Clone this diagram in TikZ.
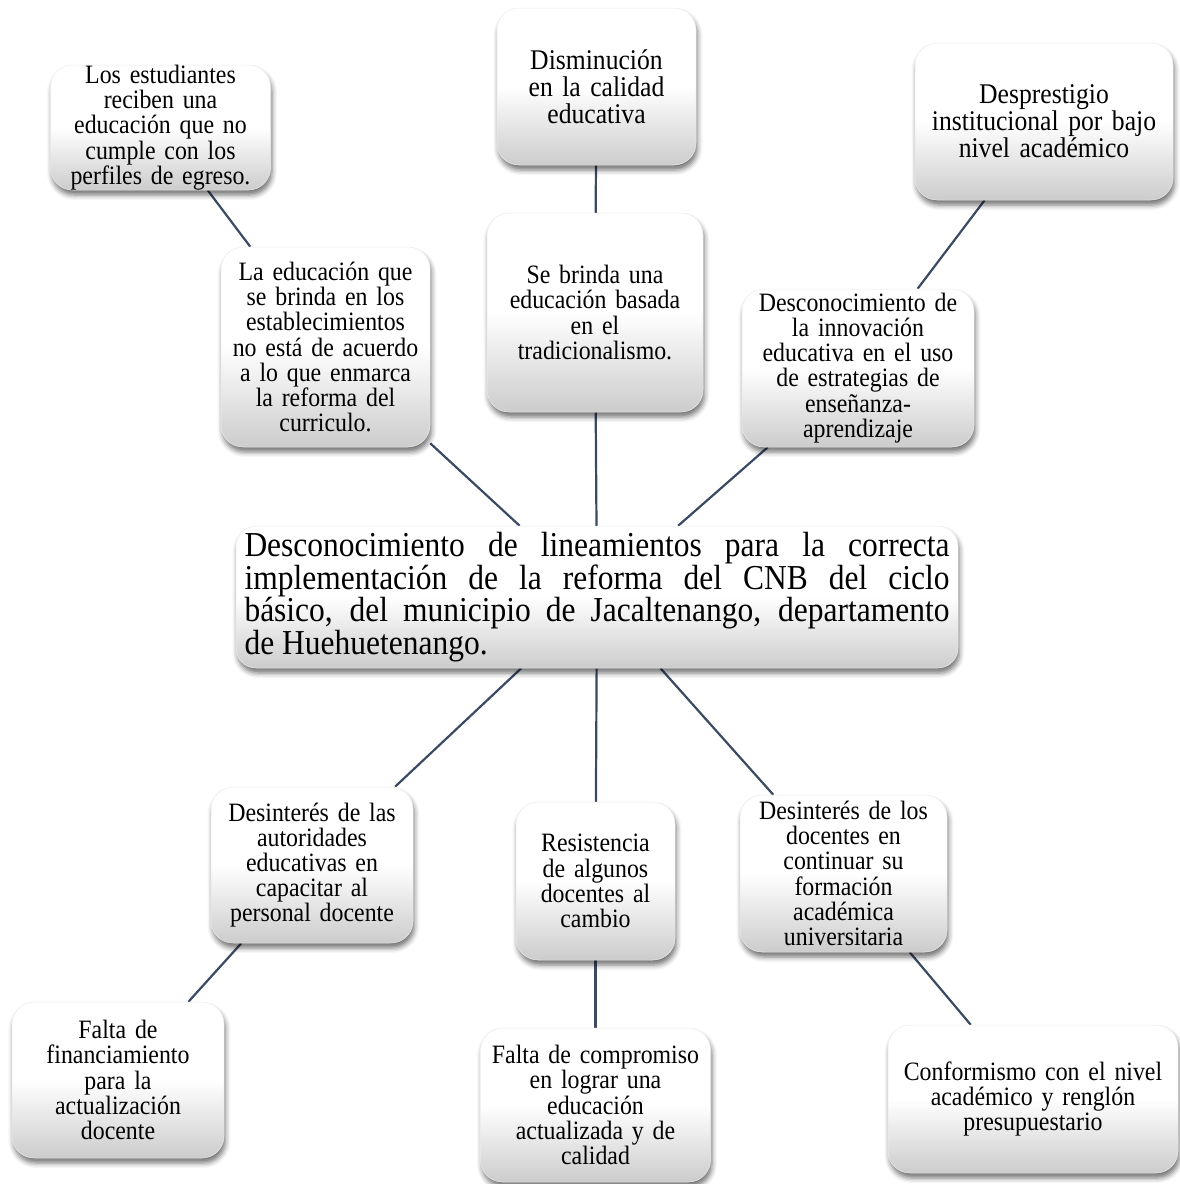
\documentclass[tikz,border=0pt]{standalone}
\usepackage{fontspec}
\setmainfont{Liberation Serif}
\newfontfamily\tallfont[FakeStretch=0.9]{Liberation Serif}
\usetikzlibrary{shadows.blur}
\definecolor{linec}{RGB}{59,74,99}
\pgfdeclarelayer{background}
\pgfsetlayers{background,main}
\tikzset{
  box/.style={rectangle, rounded corners=22pt, align=center,
    top color=white, bottom color=black!20, middle color=white,
    draw=black!8, line width=0.5pt,
    blur shadow={shadow xshift=1.5pt, shadow yshift=-5pt, shadow blur radius=5pt, shadow opacity=55},
    inner xsep=3pt, inner ysep=1pt, font=\tallfont\fontsize{26.5}{25.2}\selectfont},
  bigbox/.style={box, font=\tallfont\fontsize{28.5}{27}\selectfont},
  conn/.style={draw=linec, line width=2.2pt}
}
\begin{document}
\begin{tikzpicture}[x=1pt,y=-1pt]
\useasboundingbox (0,0) rectangle (1180,1184);
\node[box, minimum width=219pt, minimum height=125pt, text width=214pt, inner ysep=0pt] (b1) at (160.5,127.5)
  {Los estudiantes\\reciben una\\educación que no\\cumple con los\\perfiles de egreso.};
\node[bigbox, minimum width=199pt, minimum height=157pt, text width=190pt] (b2) at (596.5,86.5)
  {Disminución\\en la calidad\\educativa};
\node[bigbox, minimum width=258pt, minimum height=157pt, text width=250pt] (b3) at (1044,121.5)
  {Desprestigio\\institucional por bajo\\nivel académico};
\node[box, minimum width=209pt, minimum height=200pt, text width=203pt] (b4) at (325.5,347)
  {La educación que\\se brinda en los\\establecimientos\\no está de acuerdo\\a lo que enmarca\\la reforma del\\curriculo.};
\node[box, minimum width=216pt, minimum height=199pt, text width=206pt] (b5) at (595,312.5)
  {Se brinda una\\educación basada\\en el\\tradicionalismo.};
\node[box, minimum width=230pt, minimum height=158pt, text width=226pt] (b6) at (858,368)
  {Desconocimiento de\\la innovación\\educativa en el uso\\de estrategias de\\enseñanza-\\aprendizaje};
\node[box, rounded corners=20pt, align=justify, minimum width=722pt, minimum height=142pt, text width=705pt, inner xsep=0pt,
  font=\tallfont\fontsize{35}{32.5}\selectfont] (c) at (597,597)
  {Desconocimiento de lineamientos para la correcta\linebreak implementación de la reforma del CNB del ciclo\linebreak básico, del municipio de Jacaltenango, departamento\linebreak de Huehuetenango.};
\node[box, minimum width=200pt, minimum height=156pt, text width=196pt] (b8) at (312,865)
  {Desinterés de las\\autoridades\\educativas en\\capacitar al\\personal docente};
\node[box, minimum width=159pt, minimum height=158pt, text width=152pt] (b9) at (595.5,881)
  {Resistencia\\de algunos\\docentes al\\cambio};
\node[box, minimum width=207pt, minimum height=157pt, text width=200pt] (b10) at (843.5,873.5)
  {Desinterés de los\\docentes en\\continuar su\\formación\\académica\\universitaria};
\node[box, minimum width=212pt, minimum height=156pt, text width=204pt] (b11) at (118,1080)
  {Falta de\\financiamiento\\para la\\actualización\\docente};
\node[box, minimum width=229pt, minimum height=154pt, text width=224pt] (b12) at (595.5,1105)
  {Falta de compromiso\\en lograr una\\educación\\actualizada y de\\calidad};
\node[box, minimum width=290pt, minimum height=148pt, text width=282pt] (b13) at (1033,1099)
  {Conformismo con el nivel\\académico y renglón\\presupuestario};
\begin{pgfonlayer}{background}
\draw[conn] (b1) -- (b4);
\draw[conn] (b2) -- (b5);
\draw[conn] (b3) -- (b6);
\draw[conn] (b4) -- (c);
\draw[conn] (b5) -- (c);
\draw[conn] (b6) -- (c);
\draw[conn] (c) -- (b8);
\draw[conn] (c) -- (b9);
\draw[conn] (c) -- (b10);
\draw[conn] (b8) -- (b11);
\draw[conn] (b9) -- (b12);
\draw[conn] (b10) -- (b13);
\end{pgfonlayer}
\end{tikzpicture}
\end{document}
